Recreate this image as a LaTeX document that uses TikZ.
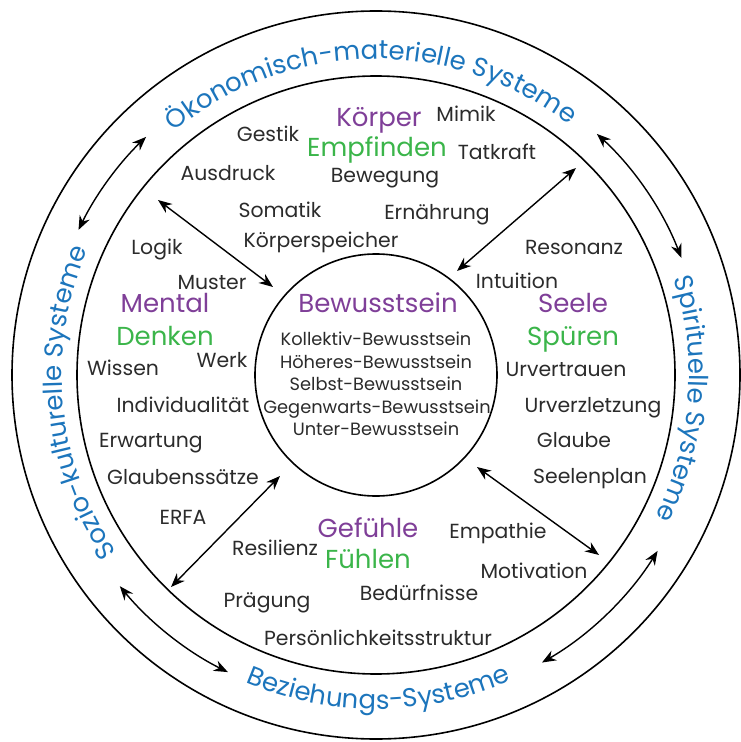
\documentclass[tikz,border=0pt]{standalone}
\usepackage{fontspec}
\setmainfont{Poppins}
\usetikzlibrary{arrows.meta,decorations.text}
\definecolor{ink}{HTML}{2B2B2B}
\definecolor{lila}{HTML}{7F3F98}
\definecolor{gruen}{HTML}{3BB54A}
\definecolor{blau}{HTML}{1C75BC}
\begin{document}
\begin{tikzpicture}[x=0.5pt,y=-0.5pt,
  every node/.style={inner sep=0pt,anchor=base,text=ink,font=\fontsize{10.2}{12}\selectfont},
  ring/.style={draw=black,line width=0.8pt},
  both/.style={{Stealth[length=7pt,width=5.5pt]}-{Stealth[length=7pt,width=5.5pt]},line width=0.7pt},
  area/.style={text=lila,font=\fontsize{13}{15}\selectfont},
  sense/.style={text=gruen,font=\fontsize{13}{15}\selectfont},
  small/.style={font=\fontsize{8.9}{11}\selectfont},
  sys/.style={decorate,decoration={text along path,text align=center,text color=blau,
    text={|\fontsize{13}{15}\selectfont|#1}}}]
\useasboundingbox (0,0) rectangle (740,742);
\coordinate (c) at (376,375);
% three rings
\draw[ring] (c) circle[radius=182pt] (c) circle[radius=149.5pt] (c) circle[radius=60.5pt];
% systems on the outer ring
\path[sys={Ökonomisch-materielle Systeme}] ([shift={(141:158pt)}]c) arc[start angle=141,end angle=41,radius=158pt];
\path[sys={Spirituelle Systeme}] ([shift={(40:156.5pt)}]c) arc[start angle=40,end angle=-49,radius=156.5pt];
\path[sys={Beziehungs-Systeme}] ([shift={(220:167pt)}]c) arc[start angle=220,end angle=321,radius=167pt];
\path[sys={Sozio-kulturelle Systeme}] ([shift={(230:157pt)}]c) arc[start angle=230,end angle=141,radius=157pt];
% centre
\node[area] (bew) at (378,313) {Bewusstsein};
\node[small] (kol) at (376,345) {Kollektiv-Bewusstsein};
\node[small] (hoe) at (376,368) {Höheres-Bewusstsein};
\node[small] (sel) at (376,390) {Selbst-Bewusstsein};
\node[small] (geg) at (377,413) {Gegenwarts-Bewusstsein};
\node[small] (unt) at (376,435) {Unter-Bewusstsein};
% Koerper
\node[area] (koe) at (379,127) {Körper};
\node[sense] (emp) at (377,157) {Empfinden};
\node (mim) at (466,122) {Mimik};
\node (ges) at (268,142) {Gestik};
\node (tat) at (497,160) {Tatkraft};
\node (aus) at (228,181) {Ausdruck};
\node (bwg) at (385,183) {Bewegung};
\node (som) at (280,218) {Somatik};
\node (ern) at (437,220) {Ernährung};
\node (ksp) at (321,248) {Körperspeicher};
% Mental
\node (log) at (157,255) {Logik};
\node (mus) at (212,290) {Muster};
\node[area] (men) at (165,313) {Mental};
\node[sense] (den) at (165,345) {Denken};
\node (wer) at (222,367) {Werk};
\node (wis) at (123,375) {Wissen};
\node (ind) at (183,412) {Individualität};
\node (erw) at (151,447) {Erwartung};
\node (gls) at (183,484) {Glaubenssätze};
\node (erf) at (183,524) {ERFA};
% Seele
\node (res) at (574,255) {Resonanz};
\node (int) at (517,289) {Intuition};
\node[area] (see) at (573,313) {Seele};
\node[sense] (spu) at (573,345) {Spüren};
\node (urv) at (566,376) {Urvertrauen};
\node (urz) at (593,412) {Urverzletzung};
\node (gla) at (574,447) {Glaube};
\node (spl) at (590,483) {Seelenplan};
% Gefuehle
\node[area] (gef) at (368,537) {Gefühle};
\node[sense] (fue) at (368,568) {Fühlen};
\node (ept) at (498,538) {Empathie};
\node (rsl) at (275,555) {Resilienz};
\node (mot) at (534,578) {Motivation};
\node (bed) at (419,600) {Bedürfnisse};
\node (pra) at (267,607) {Prägung};
\node (per) at (378,645) {Persönlichkeitsstruktur};
% arrows between centre and areas
\coordinate (a1) at (158,200); \coordinate (b1) at (273,287);
\coordinate (a2) at (576,168); \coordinate (b2) at (457,271);
\coordinate (a3) at (171,587); \coordinate (b3) at (280,476);
\coordinate (a4) at (599,555); \coordinate (b4) at (477,467);
\foreach \i in {1,...,4} \draw[both] (a\i) -- (b\i);
% arrows between systems
\coordinate (o1) at ([shift={(134:165.5pt)}]c);
\coordinate (o2) at ([shift={(47.5:163.5pt)}]c);
\coordinate (o3) at ([shift={(-32:166pt)}]c);
\coordinate (o4) at ([shift={(219.5:166pt)}]c);
\draw[both] (o1) arc[start angle=134,end angle=154,radius=165.5pt];
\draw[both] (o2) arc[start angle=47.5,end angle=21,radius=163.5pt];
\draw[both] (o3) arc[start angle=-32,end angle=-60,radius=166pt];
\draw[both] (o4) arc[start angle=219.5,end angle=243.5,radius=166pt];
\end{tikzpicture}
\end{document}
